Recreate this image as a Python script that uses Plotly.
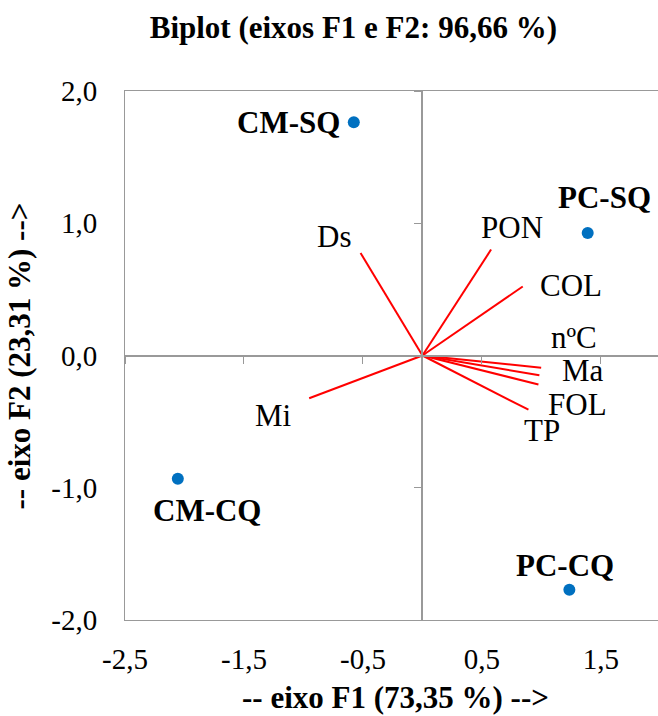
import plotly.graph_objects as go

# Observations (scores)
obs_names = ["CM-SQ", "PC-SQ", "CM-CQ", "PC-CQ"]
obs_f1 = [-0.577, 1.389, -2.056, 1.235]
obs_f2 = [1.763, 0.927, -0.932, -1.771]

# Variables (loadings)
var_names = ["Ds", "PON", "COL", "nºC", "Ma", "FOL", "TP", "Mi"]
var_f1 = [-0.52, 0.577, 0.843, 0.998, 0.983, 0.975, 0.891, -0.952]
var_f2 = [0.775, 0.801, 0.522, -0.093, -0.149, -0.219, -0.410, -0.323]

x_ticks = [-2.5, -1.5, -0.5, 0.5, 1.5]
x_ticktext = ["-2,5", "-1,5", "-0,5", "0,5", "1,5"]
y_ticks = [-2.0, -1.0, 0.0, 1.0, 2.0]
y_ticktext = ["-2,0", "-1,0", "0,0", "1,0", "2,0"]
x_range = [-2.5, 1.98]
y_range = [-2.0, 2.0]

FONT = "Liberation Serif, Times New Roman, serif"
GRAY = "#999999"
LBL = 31
TCK = 29

# label offsets (pixels): style only
var_shift = {"Ds": (-27, 17), "PON": (21, 22), "COL": (48, 1), "nºC": (33, 30),
             "Ma": (44, 5), "FOL": (39, -20), "TP": (14, -21), "Mi": (-36, -17)}
obs_shift = {"CM-SQ": (-65, 0), "PC-SQ": (17, 35), "CM-CQ": (29, -32), "PC-CQ": (-4, 24)}

fig = go.Figure()

for n, vx, vy in zip(var_names, var_f1, var_f2):
    fig.add_trace(go.Scatter(x=[0, vx], y=[0, vy], mode="lines",
                             line=dict(color="#FF0000", width=2),
                             showlegend=False, hoverinfo="skip"))

fig.add_trace(go.Scatter(x=obs_f1, y=obs_f2, mode="markers",
                         marker=dict(color="#0070C0", size=12),
                         showlegend=False))

# invisible trace to create the crossing axes at zero
fig.add_trace(go.Scatter(x=[0], y=[0], xaxis="x2", yaxis="y2", mode="markers",
                         marker=dict(opacity=0), showlegend=False, hoverinfo="skip"))

annotations = []
for n, vx, vy in zip(var_names, var_f1, var_f2):
    dx, dy = var_shift[n]
    annotations.append(dict(x=vx, y=vy, text=n, showarrow=False, xshift=dx, yshift=dy,
                            font=dict(family=FONT, size=LBL, color="black")))
for n, ox, oy in zip(obs_names, obs_f1, obs_f2):
    dx, dy = obs_shift[n]
    annotations.append(dict(x=ox, y=oy, text="<b>" + n + "</b>", showarrow=False,
                            xshift=dx, yshift=dy,
                            font=dict(family=FONT, size=LBL, color="black")))

# axis titles
annotations.append(dict(text="<b>-- eixo F1 (73,35 %) --></b>", xref="paper", yref="paper",
                        x=0.507, y=-0.1456, xanchor="center", yanchor="middle",
                        showarrow=False, font=dict(family=FONT, size=LBL, color="black")))
annotations.append(dict(text="<b>-- eixo F2 (23,31 %) --></b>", xref="paper", yref="paper",
                        x=-0.197, y=0.5, xanchor="center", yanchor="middle", textangle=-90,
                        showarrow=False, font=dict(family=FONT, size=LBL, color="black")))

x0_frac = (0 - x_range[0]) / (x_range[1] - x_range[0])
y0_frac = (0 - y_range[0]) / (y_range[1] - y_range[0])

fig.update_layout(
    width=658, height=716,
    margin=dict(l=125, r=0, t=91, b=96),
    paper_bgcolor="white", plot_bgcolor="white",
    title=dict(text="<b>Biplot (eixos F1 e F2: 96,66 %)</b>", x=0.537, xref="container",
               xanchor="center", y=0.962, yref="container", yanchor="middle",
               font=dict(family=FONT, size=LBL, color="black")),
    xaxis=dict(range=x_range, tickvals=x_ticks, ticktext=x_ticktext, showgrid=False,
               zeroline=False, showline=True, linecolor=GRAY, linewidth=1, mirror=True,
               ticks="", ticklabelstandoff=13,
               tickfont=dict(family=FONT, size=TCK, color="black")),
    yaxis=dict(range=y_range, tickvals=y_ticks, ticktext=y_ticktext, showgrid=False,
               zeroline=False, showline=True, linecolor=GRAY, linewidth=1,
               ticks="", ticklabelstandoff=21,
               tickfont=dict(family=FONT, size=TCK, color="black")),
    xaxis2=dict(overlaying="x", matches="x", anchor="free", position=y0_frac,
                tickvals=x_ticks, showticklabels=False, ticks="outside", ticklen=8,
                tickcolor=GRAY, showline=True, linecolor=GRAY, linewidth=1.5,
                showgrid=False, zeroline=False),
    yaxis2=dict(overlaying="y", matches="y", anchor="free", position=x0_frac,
                tickvals=y_ticks, showticklabels=False, ticks="outside", ticklen=8,
                tickcolor=GRAY, showline=True, linecolor=GRAY, linewidth=1.5,
                showgrid=False, zeroline=False),
    annotations=annotations,
)

fig.write_html("out.html", config={"displayModeBar": False},
               post_script="document.body.style.margin='0';document.body.style.overflow='hidden';")
